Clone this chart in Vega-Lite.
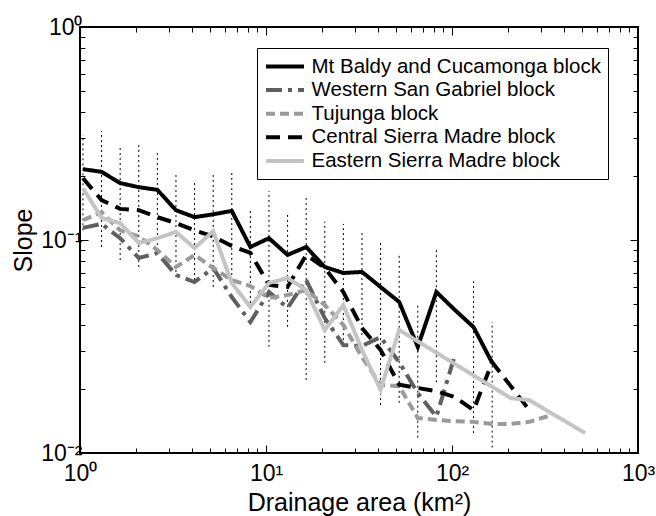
{
  "$schema": "https://vega.github.io/schema/vega-lite/v6.json",
  "width": 558,
  "height": 426,
  "autosize": "none",
  "padding": {"left": 80, "top": 27, "right": 18, "bottom": 63},
  "background": "white",
  "config": {
    "view": {"stroke": "black", "strokeWidth": 2},
    "font": "Liberation Sans",
    "axis": {
      "domain": false,
      "grid": false,
      "tickColor": "black",
      "tickWidth": 1,
      "labelColor": "black",
      "titleColor": "black",
      "labelFont": "Liberation Sans",
      "titleFont": "Liberation Sans",
      "labelFontSize": 23,
      "titleFontSize": 25,
      "titleFontWeight": "normal",
      "labelOverlap": false,
      "labelBound": false,
      "labelFlush": false
    },
    "legend": {
      "orient": "none",
      "legendX": 177,
      "legendY": 21,
      "fillColor": "white",
      "strokeColor": "black",
      "padding": 7,
      "symbolType": "M-2,0H2",
      "symbolSize": 361,
      "symbolOffset": 9.5,
      "symbolStrokeWidth": 4,
      "labelFont": "Liberation Sans",
      "labelFontSize": 20.5,
      "labelColor": "black",
      "labelOffset": 15,
      "labelLimit": 500,
      "rowPadding": 1.6,
      "cornerRadius": 0
    }
  },
  "datasets": {
    "bars": [
      {"area": 1.0375, "lo": 0.111, "hi": 0.311},
      {"area": 1.306, "lo": 0.0927, "hi": 0.325},
      {"area": 1.644, "lo": 0.0805, "hi": 0.279},
      {"area": 2.070, "lo": 0.0747, "hi": 0.279},
      {"area": 2.606, "lo": 0.0948, "hi": 0.259},
      {"area": 3.281, "lo": 0.0670, "hi": 0.206},
      {"area": 4.130, "lo": 0.0649, "hi": 0.191},
      {"area": 5.200, "lo": 0.0602, "hi": 0.202},
      {"area": 6.546, "lo": 0.0649, "hi": 0.213},
      {"area": 8.241, "lo": 0.0506, "hi": 0.140},
      {"area": 10.375, "lo": 0.0315, "hi": 0.170},
      {"area": 13.06, "lo": 0.0391, "hi": 0.134},
      {"area": 16.44, "lo": 0.0220, "hi": 0.161},
      {"area": 20.70, "lo": 0.0265, "hi": 0.122},
      {"area": 26.06, "lo": 0.0339, "hi": 0.119},
      {"area": 32.81, "lo": 0.0358, "hi": 0.109},
      {"area": 41.30, "lo": 0.0168, "hi": 0.100},
      {"area": 52.00, "lo": 0.0172, "hi": 0.0851},
      {"area": 65.46, "lo": 0.0118, "hi": 0.0506},
      {"area": 82.41, "lo": 0.0215, "hi": 0.0917},
      {"area": 130.6, "lo": 0.0124, "hi": 0.0649},
      {"area": 164.4, "lo": 0.0106, "hi": 0.0412}
    ],
    "lines": [
      {"series": "Mt Baldy and Cucamonga block", "area": 1.0375, "slope": 0.215},
      {"series": "Mt Baldy and Cucamonga block", "area": 1.306, "slope": 0.209},
      {"series": "Mt Baldy and Cucamonga block", "area": 1.644, "slope": 0.185},
      {"series": "Mt Baldy and Cucamonga block", "area": 2.070, "slope": 0.177},
      {"series": "Mt Baldy and Cucamonga block", "area": 2.606, "slope": 0.172},
      {"series": "Mt Baldy and Cucamonga block", "area": 3.281, "slope": 0.138},
      {"series": "Mt Baldy and Cucamonga block", "area": 4.130, "slope": 0.128},
      {"series": "Mt Baldy and Cucamonga block", "area": 5.200, "slope": 0.132},
      {"series": "Mt Baldy and Cucamonga block", "area": 6.546, "slope": 0.137},
      {"series": "Mt Baldy and Cucamonga block", "area": 8.241, "slope": 0.0927},
      {"series": "Mt Baldy and Cucamonga block", "area": 10.375, "slope": 0.102},
      {"series": "Mt Baldy and Cucamonga block", "area": 13.06, "slope": 0.0851},
      {"series": "Mt Baldy and Cucamonga block", "area": 16.44, "slope": 0.0927},
      {"series": "Mt Baldy and Cucamonga block", "area": 20.70, "slope": 0.0747},
      {"series": "Mt Baldy and Cucamonga block", "area": 26.06, "slope": 0.0700},
      {"series": "Mt Baldy and Cucamonga block", "area": 32.81, "slope": 0.0708},
      {"series": "Mt Baldy and Cucamonga block", "area": 41.30, "slope": 0.0602},
      {"series": "Mt Baldy and Cucamonga block", "area": 52.00, "slope": 0.0512},
      {"series": "Mt Baldy and Cucamonga block", "area": 65.46, "slope": 0.0315},
      {"series": "Mt Baldy and Cucamonga block", "area": 82.41, "slope": 0.0570},
      {"series": "Mt Baldy and Cucamonga block", "area": 103.75, "slope": 0.0469},
      {"series": "Mt Baldy and Cucamonga block", "area": 130.6, "slope": 0.0390},
      {"series": "Mt Baldy and Cucamonga block", "area": 164.4, "slope": 0.0265},

      {"series": "Western San Gabriel block", "area": 1.0375, "slope": 0.114},
      {"series": "Western San Gabriel block", "area": 1.306, "slope": 0.119},
      {"series": "Western San Gabriel block", "area": 1.644, "slope": 0.102},
      {"series": "Western San Gabriel block", "area": 2.070, "slope": 0.0823},
      {"series": "Western San Gabriel block", "area": 2.606, "slope": 0.0869},
      {"series": "Western San Gabriel block", "area": 3.281, "slope": 0.0685},
      {"series": "Western San Gabriel block", "area": 4.130, "slope": 0.0635},
      {"series": "Western San Gabriel block", "area": 5.200, "slope": 0.0739},
      {"series": "Western San Gabriel block", "area": 6.546, "slope": 0.0540},
      {"series": "Western San Gabriel block", "area": 8.241, "slope": 0.0412},
      {"series": "Western San Gabriel block", "area": 10.375, "slope": 0.0570},
      {"series": "Western San Gabriel block", "area": 13.06, "slope": 0.0480},
      {"series": "Western San Gabriel block", "area": 16.44, "slope": 0.0649},
      {"series": "Western San Gabriel block", "area": 20.70, "slope": 0.0430},
      {"series": "Western San Gabriel block", "area": 26.06, "slope": 0.0321},
      {"series": "Western San Gabriel block", "area": 32.81, "slope": 0.0318},
      {"series": "Western San Gabriel block", "area": 41.30, "slope": 0.0350},
      {"series": "Western San Gabriel block", "area": 52.00, "slope": 0.0267},
      {"series": "Western San Gabriel block", "area": 65.46, "slope": 0.0191},
      {"series": "Western San Gabriel block", "area": 82.41, "slope": 0.0148},
      {"series": "Western San Gabriel block", "area": 103.75, "slope": 0.0289},

      {"series": "Tujunga block", "area": 1.0375, "slope": 0.124},
      {"series": "Tujunga block", "area": 1.306, "slope": 0.135},
      {"series": "Tujunga block", "area": 1.644, "slope": 0.111},
      {"series": "Tujunga block", "area": 2.070, "slope": 0.104},
      {"series": "Tujunga block", "area": 2.606, "slope": 0.0897},
      {"series": "Tujunga block", "area": 3.281, "slope": 0.0747},
      {"series": "Tujunga block", "area": 4.130, "slope": 0.0851},
      {"series": "Tujunga block", "area": 5.200, "slope": 0.0739},
      {"series": "Tujunga block", "area": 6.546, "slope": 0.0649},
      {"series": "Tujunga block", "area": 8.241, "slope": 0.0608},
      {"series": "Tujunga block", "area": 10.375, "slope": 0.0534},
      {"series": "Tujunga block", "area": 13.06, "slope": 0.0552},
      {"series": "Tujunga block", "area": 16.44, "slope": 0.0582},
      {"series": "Tujunga block", "area": 20.70, "slope": 0.0495},
      {"series": "Tujunga block", "area": 26.06, "slope": 0.0399},
      {"series": "Tujunga block", "area": 32.81, "slope": 0.0282},
      {"series": "Tujunga block", "area": 41.30, "slope": 0.0209},
      {"series": "Tujunga block", "area": 52.00, "slope": 0.0206},
      {"series": "Tujunga block", "area": 65.46, "slope": 0.0146},
      {"series": "Tujunga block", "area": 82.41, "slope": 0.0143},
      {"series": "Tujunga block", "area": 103.75, "slope": 0.0141},
      {"series": "Tujunga block", "area": 130.6, "slope": 0.0140},
      {"series": "Tujunga block", "area": 164.4, "slope": 0.0137},
      {"series": "Tujunga block", "area": 207.0, "slope": 0.0137},
      {"series": "Tujunga block", "area": 260.6, "slope": 0.0140},
      {"series": "Tujunga block", "area": 328.1, "slope": 0.0149},

      {"series": "Central Sierra Madre block", "area": 1.0375, "slope": 0.195},
      {"series": "Central Sierra Madre block", "area": 1.306, "slope": 0.154},
      {"series": "Central Sierra Madre block", "area": 1.644, "slope": 0.140},
      {"series": "Central Sierra Madre block", "area": 2.070, "slope": 0.138},
      {"series": "Central Sierra Madre block", "area": 2.606, "slope": 0.128},
      {"series": "Central Sierra Madre block", "area": 3.281, "slope": 0.120},
      {"series": "Central Sierra Madre block", "area": 4.130, "slope": 0.111},
      {"series": "Central Sierra Madre block", "area": 5.200, "slope": 0.104},
      {"series": "Central Sierra Madre block", "area": 6.546, "slope": 0.0937},
      {"series": "Central Sierra Madre block", "area": 8.241, "slope": 0.0869},
      {"series": "Central Sierra Madre block", "area": 10.375, "slope": 0.0615},
      {"series": "Central Sierra Madre block", "area": 13.06, "slope": 0.0602},
      {"series": "Central Sierra Madre block", "area": 16.44, "slope": 0.0851},
      {"series": "Central Sierra Madre block", "area": 20.70, "slope": 0.0739},
      {"series": "Central Sierra Madre block", "area": 26.06, "slope": 0.0570},
      {"series": "Central Sierra Madre block", "area": 32.81, "slope": 0.0386},
      {"series": "Central Sierra Madre block", "area": 41.30, "slope": 0.0305},
      {"series": "Central Sierra Madre block", "area": 52.00, "slope": 0.0209},
      {"series": "Central Sierra Madre block", "area": 65.46, "slope": 0.0202},
      {"series": "Central Sierra Madre block", "area": 82.41, "slope": 0.0195},
      {"series": "Central Sierra Madre block", "area": 103.75, "slope": 0.0183},
      {"series": "Central Sierra Madre block", "area": 130.6, "slope": 0.0159},
      {"series": "Central Sierra Madre block", "area": 164.4, "slope": 0.0267},
      {"series": "Central Sierra Madre block", "area": 207.0, "slope": 0.0206},
      {"series": "Central Sierra Madre block", "area": 260.6, "slope": 0.0159},

      {"series": "Eastern Sierra Madre block", "area": 1.0375, "slope": 0.175},
      {"series": "Eastern Sierra Madre block", "area": 1.306, "slope": 0.127},
      {"series": "Eastern Sierra Madre block", "area": 1.644, "slope": 0.120},
      {"series": "Eastern Sierra Madre block", "area": 2.070, "slope": 0.0968},
      {"series": "Eastern Sierra Madre block", "area": 2.606, "slope": 0.102},
      {"series": "Eastern Sierra Madre block", "area": 3.281, "slope": 0.109},
      {"series": "Eastern Sierra Madre block", "area": 4.130, "slope": 0.0917},
      {"series": "Eastern Sierra Madre block", "area": 5.200, "slope": 0.110},
      {"series": "Eastern Sierra Madre block", "area": 6.546, "slope": 0.0628},
      {"series": "Eastern Sierra Madre block", "area": 8.241, "slope": 0.0485},
      {"series": "Eastern Sierra Madre block", "area": 10.375, "slope": 0.0628},
      {"series": "Eastern Sierra Madre block", "area": 13.06, "slope": 0.0663},
      {"series": "Eastern Sierra Madre block", "area": 16.44, "slope": 0.0582},
      {"series": "Eastern Sierra Madre block", "area": 20.70, "slope": 0.0378},
      {"series": "Eastern Sierra Madre block", "area": 26.06, "slope": 0.0495},
      {"series": "Eastern Sierra Madre block", "area": 32.81, "slope": 0.0305},
      {"series": "Eastern Sierra Madre block", "area": 41.30, "slope": 0.0198},
      {"series": "Eastern Sierra Madre block", "area": 52.00, "slope": 0.0378},
      {"series": "Eastern Sierra Madre block", "area": 207.0, "slope": 0.0181},
      {"series": "Eastern Sierra Madre block", "area": 260.6, "slope": 0.0177},
      {"series": "Eastern Sierra Madre block", "area": 520.0, "slope": 0.0124}
    ]
  },
  "layer": [
    {
      "data": {"name": "bars"},
      "mark": {"type": "rule", "color": "black", "strokeWidth": 1, "strokeDash": [2, 3]},
      "encoding": {
        "x": {
          "field": "area", "type": "quantitative",
          "scale": {"type": "log", "domain": [1, 1000], "nice": false},
          "axis": {
            "orient": "top", "labels": false, "title": null,
            "values": [1,2,3,4,5,6,7,8,9,10,20,30,40,50,60,70,80,90,100,200,300,400,500,600,700,800,900,1000],
            "tickSize": {"condition": {"test": "datum.value == 1 || datum.value == 10 || datum.value == 100 || datum.value == 1000", "value": -8}, "value": -5}
          }
        },
        "y": {
          "field": "lo", "type": "quantitative",
          "scale": {"type": "log", "domain": [0.01, 1], "nice": false},
          "axis": {
            "orient": "right", "labels": false, "title": null,
            "values": [0.01,0.02,0.03,0.04,0.05,0.06,0.07,0.08,0.09,0.1,0.2,0.3,0.4,0.5,0.6,0.7,0.8,0.9,1],
            "tickSize": {"condition": {"test": "datum.value == 0.01 || datum.value == 0.1 || datum.value == 1", "value": -8}, "value": -5}
          }
        },
        "y2": {"field": "hi"}
      }
    },
    {
      "data": {"name": "lines"},
      "mark": {"type": "line", "strokeWidth": 4, "strokeCap": "butt", "strokeJoin": "miter"},
      "encoding": {
        "x": {
          "field": "area", "type": "quantitative",
          "scale": {"type": "log", "domain": [1, 1000], "nice": false},
          "axis": {
            "orient": "bottom",
            "title": "Drainage area (km²)",
            "titlePadding": 2,
            "values": [1,2,3,4,5,6,7,8,9,10,20,30,40,50,60,70,80,90,100,200,300,400,500,600,700,800,900,1000],
            "labelExpr": "datum.value == 1 ? '10⁰' : datum.value == 10 ? '10¹' : datum.value == 100 ? '10²' : datum.value == 1000 ? '10³' : ''",
            "tickSize": {"condition": {"test": "datum.value == 1 || datum.value == 10 || datum.value == 100 || datum.value == 1000", "value": -8}, "value": -5},
            "labelPadding": 17
          }
        },
        "y": {
          "field": "slope", "type": "quantitative",
          "scale": {"type": "log", "domain": [0.01, 1], "nice": false},
          "axis": {
            "orient": "left",
            "title": "Slope",
            "titlePadding": 4,
            "values": [0.01,0.02,0.03,0.04,0.05,0.06,0.07,0.08,0.09,0.1,0.2,0.3,0.4,0.5,0.6,0.7,0.8,0.9,1],
            "labelExpr": "datum.value == 1 ? '10⁰' : datum.value == 0.1 ? '10⁻¹' : datum.value == 0.01 ? '10⁻²' : ''",
            "tickSize": {"condition": {"test": "datum.value == 0.01 || datum.value == 0.1 || datum.value == 1", "value": -8}, "value": -5},
            "labelPadding": 6
          }
        },
        "color": {
          "field": "series", "type": "nominal",
          "scale": {
            "domain": ["Mt Baldy and Cucamonga block", "Western San Gabriel block", "Tujunga block", "Central Sierra Madre block", "Eastern Sierra Madre block"],
            "range": ["#000000", "#5f5f5f", "#9a9a9a", "#000000", "#c4c4c4"]
          },
          "legend": {"title": null}
        },
        "strokeDash": {
          "field": "series", "type": "nominal",
          "scale": {
            "domain": ["Mt Baldy and Cucamonga block", "Western San Gabriel block", "Tujunga block", "Central Sierra Madre block", "Eastern Sierra Madre block"],
            "range": [[1, 0], [16, 6, 4, 6], [9, 5], [14, 8], [1, 0]]
          },
          "legend": {"title": null}
        }
      }
    }
  ],
  "resolve": {"axis": {"x": "independent", "y": "independent"}}
}
